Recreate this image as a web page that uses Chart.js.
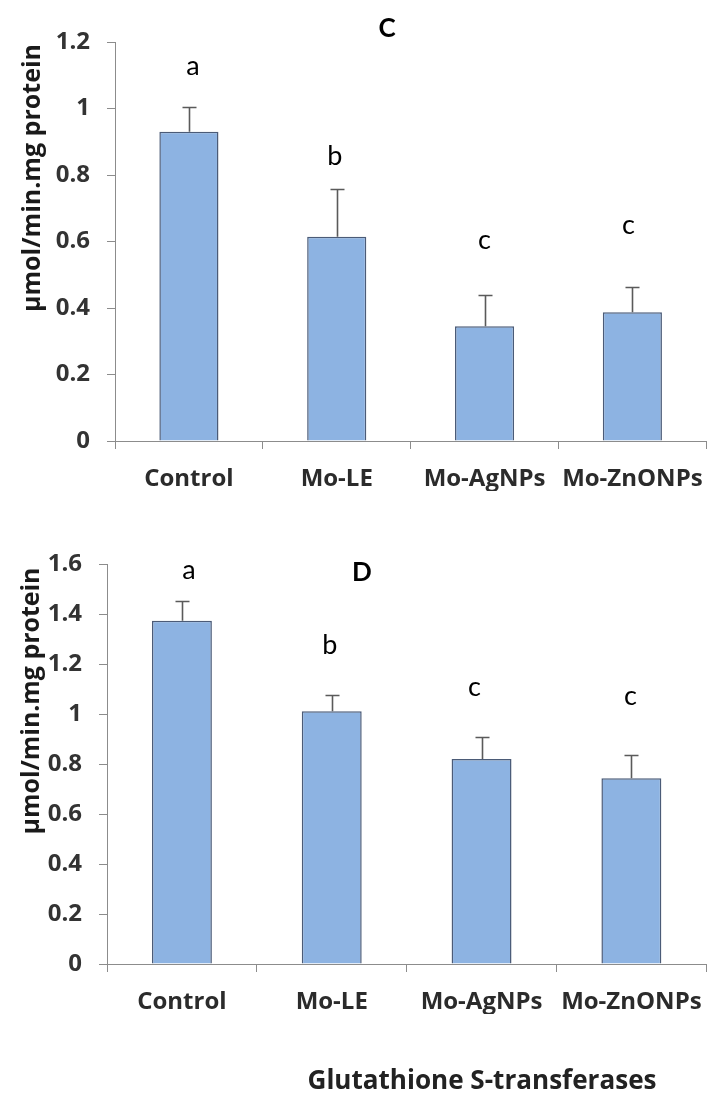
<!DOCTYPE html>
<html><head><meta charset="utf-8">
<script src="https://cdn.jsdelivr.net/npm/chart.js@4"></script>
<style>
html,body{margin:0;padding:0;background:#fff;width:719px;height:1093px;overflow:hidden}
canvas{position:absolute;left:0}
#c1{top:0}
#c2{top:500px}
</style></head><body>
<canvas id="c1" width="719" height="500"></canvas>
<canvas id="c2" width="719" height="593"></canvas>
<script>
// ---- data ----
const categories = ['Control', 'Mo-LE', 'Mo-AgNPs', 'Mo-ZnONPs'];

const panelC = 'C';
const meansC = [0.93, 0.614, 0.345, 0.387];
const errorsC = [0.075, 0.144, 0.094, 0.075];
const lettersC = ['a', 'b', 'c', 'c'];
const letterLevelC = [1.128, 0.857, 0.605, 0.65];
const yMaxC = 1.2;

const panelD = 'D';
const meansD = [1.373, 1.011, 0.82, 0.743];
const errorsD = [0.08, 0.064, 0.087, 0.093];
const lettersD = ['a', 'b', 'c', 'c'];
const letterLevelD = [1.576, 1.276, 1.108, 1.072];
const yMaxD = 1.6;

const yStep = 0.2;
const yTitle = 'µmol/min.mg protein';
const bottomTitle = 'Glutathione S-transferases';

// ---- style ----
const FONT = 'Lato, "Open Sans", sans-serif';
const FONT_AX = '"Open Sans", Lato, sans-serif';
const BAR_FILL = '#8db3e2';
const BAR_EDGE = '#4b5b77';
const AXIS = '#8c8c8c';

function fitText(ctx, text, x, y, len, rot) {
  ctx.save();
  ctx.translate(x, y);
  if (rot) ctx.rotate(rot);
  const w = ctx.measureText(text).width;
  ctx.scale(len / w, 1);
  ctx.fillText(text, 0, 0);
  ctx.restore();
}

const annot = {
  id: 'annot',
  afterDatasetsDraw(chart, args, o) {
    const ctx = chart.ctx, x = chart.scales.x, y = chart.scales.y;
    ctx.save();
    // error bars (upper only)
    ctx.strokeStyle = '#5a5a5a';
    ctx.lineWidth = 1.6;
    o.means.forEach((m, i) => {
      const px = Math.round(x.getPixelForValue(i)) + 0.5;
      const y0 = y.getPixelForValue(m);
      const y1 = Math.round(y.getPixelForValue(m + o.errors[i])) + 0.5;
      ctx.beginPath();
      ctx.moveTo(px, y0); ctx.lineTo(px, y1);
      ctx.moveTo(px - 7, y1); ctx.lineTo(px + 7, y1);
      ctx.stroke();
    });
    // significance letters
    ctx.fillStyle = '#000';
    ctx.textAlign = 'center';
    ctx.textBaseline = 'middle';
    ctx.font = '27px ' + FONT;
    o.letters.forEach((l, i) => {
      ctx.fillText(l, x.getPixelForValue(i) + o.letterDx[i], y.getPixelForValue(o.letterLevels[i]));
    });
    // panel title
    ctx.font = 'bold 26px ' + FONT;
    ctx.fillText(o.panel, o.panelX, o.panelY);
    // y title
    ctx.font = 'bold 25px ' + FONT_AX;
    ctx.fillStyle = '#1a1a1a';
    fitText(ctx, yTitle, o.yTitleX, o.yTitleY, o.yTitleLen, -Math.PI / 2);
    if (o.bottom) {
      ctx.font = 'bold 26px ' + FONT_AX;
      ctx.fillStyle = '#222';
      fitText(ctx, bottomTitle, o.bottomX, o.bottomY, o.bottomLen, 0);
    }
    ctx.restore();
  }
};

function makeChart(id, means, yMax, yWidth, pad, opts) {
  return new Chart(document.getElementById(id), {
    type: 'bar',
    data: {
      labels: categories,
      datasets: [{
        data: means,
        backgroundColor: BAR_FILL,
        borderColor: BAR_EDGE,
        borderWidth: 1.5,
        categoryPercentage: 1,
        barPercentage: 0.4
      }]
    },
    options: {
      responsive: false,
      animation: false,
      events: [],
      layout: { padding: pad },
      plugins: { legend: { display: false }, tooltip: { enabled: false }, annot: opts },
      scales: {
        x: {
          offset: true,
          afterFit: s => { s.height = 50; },
          grid: { offset: true, drawOnChartArea: false, drawTicks: true, tickLength: 8, color: AXIS, lineWidth: 1 },
          border: { display: true, color: AXIS, width: 1 },
          ticks: { color: '#2b2b2b', padding: 16, font: { family: FONT_AX, size: 24, weight: 'bold' }, maxRotation: 0, autoSkip: false }
        },
        y: {
          min: 0, max: yMax,
          afterFit: s => { s.width = yWidth; },
          grid: { drawOnChartArea: false, drawTicks: true, tickLength: 8, color: AXIS, lineWidth: 1 },
          border: { display: true, color: AXIS, width: 1 },
          ticks: {
            stepSize: yStep, color: '#333', padding: 17,
            font: { family: FONT_AX, size: 24, weight: 'bold' },
            callback: v => String(Number(v.toFixed(1)))
          }
        }
      }
    },
    plugins: [annot]
  });
}

makeChart('c1', meansC, yMaxC, 115, { top: 42, right: 3, bottom: 9, left: 0 }, {
  means: meansC, errors: errorsC, letters: lettersC, letterLevels: letterLevelC,
  letterDx: [4, -2, 0, -4],
  panel: panelC, panelX: 387, panelY: 29,
  yTitleX: 33, yTitleY: 178, yTitleLen: 268, bottom: false
});

makeChart('c2', meansD, yMaxD, 107, { top: 64, right: 11, bottom: 79, left: 0 }, {
  means: meansD, errors: errorsD, letters: lettersD, letterLevels: letterLevelD,
  letterDx: [7, -2, -7, -1],
  panel: panelD, panelX: 362, panelY: 73,
  yTitleX: 32, yTitleY: 201, yTitleLen: 267, bottom: true,
  bottomX: 482, bottomY: 582, bottomLen: 349
});
</script>
</body></html>
